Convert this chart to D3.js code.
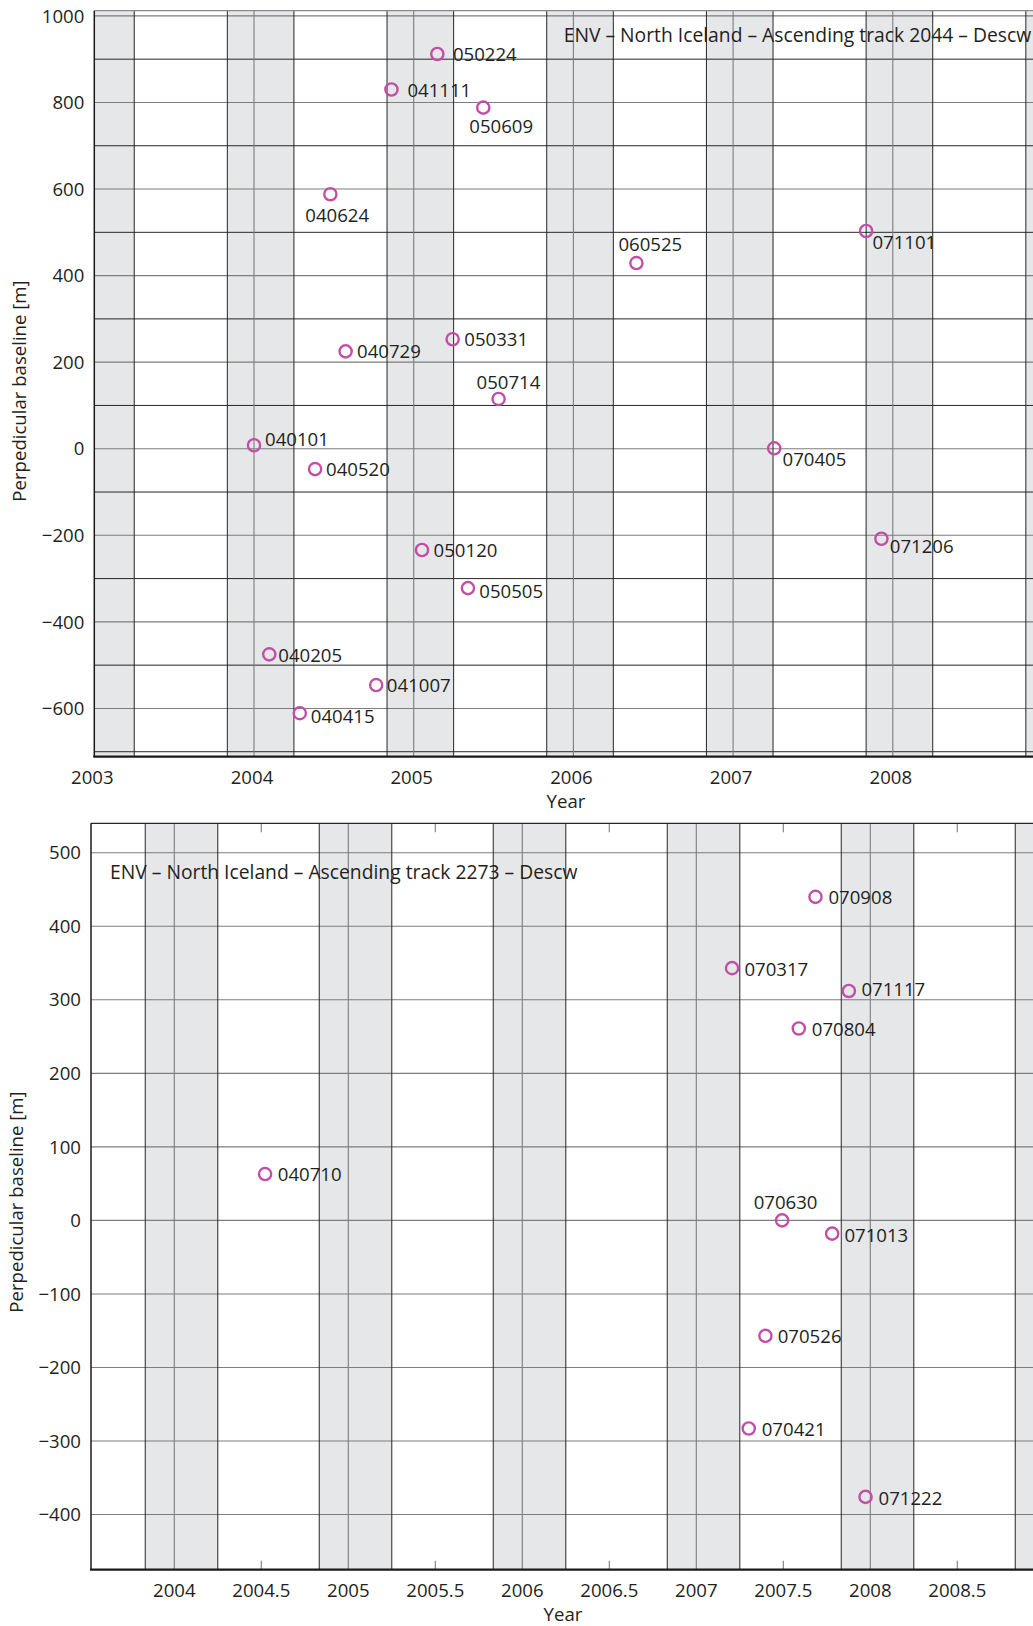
<!DOCTYPE html>
<html>
<head>
<meta charset="utf-8">
<script src="https://cdn.jsdelivr.net/npm/d3@7"></script>
<style>
  html, body { margin: 0; padding: 0; background: #fff; }
  svg { display: block; }
  text { font-family: 'Open Sans', 'Noto Sans', sans-serif; fill: #231f20; }
</style>
</head>
<body>
<svg id="chart" width="1033" height="1626"></svg>
<script>
// ---------------- DATA ----------------
// Track 2044 (top panel)
const dates1 = ["040101","040205","040415","040520","040624","040729","041007","041111",
                "050120","050224","050331","050505","050609","050714","060525","070405",
                "071101","071206"];
const baseline1 = [8, -475, -611, -47, 588, 225, -546, 830,
                   -234, 912, 253, -322, 788, 115, 429, 1,
                   503, -208];
const yTicks1 = [-600, -400, -200, 0, 200, 400, 600, 800, 1000];
const yGrid1 = [-700, -500, -300, -100, 100, 300, 500, 700, 900];
const xTicks1 = [2003, 2004, 2005, 2006, 2007, 2008];
const title1 = "ENV – North Iceland – Ascending track 2044 – Descw";

// Track 2273 (bottom panel)
const dates2 = ["040710","070317","070421","070526","070630","070804","070908","071013",
                "071117","071222"];
const baseline2 = [63, 343, -283, -157, 0, 261, 440, -18, 312, -376];
const yTicks2 = [-400, -300, -200, -100, 0, 100, 200, 300, 400, 500];
const xTicks2 = [2004, 2004.5, 2005, 2005.5, 2006, 2006.5, 2007, 2007.5, 2008, 2008.5];
const title2 = "ENV – North Iceland – Ascending track 2273 – Descw";

// Winter (Nov–Mar) shading, decimal years
const winterStart = [2002.833, 2003.833, 2004.833, 2005.833, 2006.833, 2007.833, 2008.833];
const winterEnd   = [2003.25, 2004.25, 2005.25, 2006.25, 2007.25, 2008.25, 2009.25];
const yearLines = [2003, 2004, 2005, 2006, 2007, 2008, 2009];

const yLabel = "Perpedicular baseline [m]";
const xLabel = "Year";

// ---------------- LAYOUT (label offsets in px: left edge dx, vertical centre dy) ----------------
const labelOffsets1 = {
  "040101":[11,-6], "040205":[9,0.6], "040415":[11,3.6], "040520":[11,0], "040624":[-25,20.6],
  "040729":[11.4,0.4], "041007":[10.7,0.4], "041111":[16,0.5], "050120":[11.6,0.7],
  "050224":[15.6,0.5], "050331":[11.7,0], "050505":[11.3,2.7], "050609":[-14,18.5],
  "050714":[-22,-17], "060525":[-18,-19], "070405":[8.3,11], "071101":[6.3,11.6], "071206":[8.4,8]
};
const labelOffsets2 = {
  "040710":[12.7,0], "070317":[12.4,1], "070421":[13,1], "070526":[12.3,0.7], "070630":[-28.4,-17.7],
  "070804":[13,0.7], "070908":[13,0.3], "071013":[12.3,1.4], "071117":[12.6,-1.7], "071222":[13,1]
};

const FONT = 18.6;
const TITLE_FONT = 19.3;
const MARK = "#c24ea6";
const GREY_LINE = "#7d7d7d";
const DARK_LINE = "#262626";
const BAND = "#e6e7e9";

const parse = d3.timeParse("%y%m%d");
function decYear(s) {
  const d = parse(s);
  const y0 = d3.timeYear.floor(d), y1 = d3.timeYear.offset(y0, 1);
  return d.getFullYear() + d3.timeDay.count(y0, d) / d3.timeDay.count(y0, y1);
}

const svg = d3.select("#chart");

function panel(cfg) {
  const g = svg.append("g");
  const x = d3.scaleLinear().domain(cfg.xDomain).range([cfg.left, cfg.right]);
  const y = d3.scaleLinear().domain(cfg.yDomain).range([cfg.bottom, cfg.top]);
  const clipId = "clip" + cfg.id;
  svg.append("clipPath").attr("id", clipId).append("rect")
    .attr("x", cfg.left).attr("y", cfg.top)
    .attr("width", cfg.right - cfg.left).attr("height", cfg.bottom - cfg.top);
  const inner = g.append("g").attr("clip-path", `url(#${clipId})`);

  // winter bands
  inner.selectAll("rect.band").data(d3.zip(winterStart, winterEnd)).join("rect")
    .attr("class", "band")
    .attr("x", d => x(d[0])).attr("width", d => x(d[1]) - x(d[0]))
    .attr("y", cfg.top).attr("height", cfg.bottom - cfg.top)
    .attr("fill", BAND);

  // horizontal grid
  inner.selectAll("line.hg").data(cfg.yGrid).join("line")
    .attr("x1", cfg.left).attr("x2", cfg.right)
    .attr("y1", d => y(d)).attr("y2", d => y(d))
    .attr("stroke", DARK_LINE).attr("stroke-width", 1);
  inner.selectAll("line.ht").data(cfg.yTicks).join("line")
    .attr("x1", cfg.left).attr("x2", cfg.right)
    .attr("y1", d => y(d)).attr("y2", d => y(d))
    .attr("stroke", GREY_LINE).attr("stroke-width", 1.1);

  // vertical grid (band edges + year lines)
  const edges = winterStart.concat(winterEnd);
  inner.selectAll("line.ve").data(edges).join("line")
    .attr("x1", d => x(d)).attr("x2", d => x(d))
    .attr("y1", cfg.top).attr("y2", cfg.bottom)
    .attr("stroke", DARK_LINE).attr("stroke-width", 1);
  inner.selectAll("line.vy").data(yearLines).join("line")
    .attr("x1", d => x(d)).attr("x2", d => x(d))
    .attr("y1", cfg.top).attr("y2", cfg.bottom)
    .attr("stroke", GREY_LINE).attr("stroke-width", 1.1);

  // minor half-year tick marks (bottom panel)
  if (cfg.halfTicks) {
    const half = cfg.xTicks.filter(t => t % 1 !== 0);
    inner.selectAll("line.tb").data(half).join("line")
      .attr("x1", d => x(d)).attr("x2", d => x(d))
      .attr("y1", cfg.bottom).attr("y2", cfg.bottom - 9)
      .attr("stroke", GREY_LINE).attr("stroke-width", 1.1);
    inner.selectAll("line.tt").data(half).join("line")
      .attr("x1", d => x(d)).attr("x2", d => x(d))
      .attr("y1", cfg.top).attr("y2", cfg.top + 9)
      .attr("stroke", GREY_LINE).attr("stroke-width", 1.1);
  }

  // frame
  g.append("line").attr("x1", cfg.left).attr("x2", 1033).attr("y1", cfg.top).attr("y2", cfg.top)
    .attr("stroke", cfg.topColor).attr("stroke-width", 1.3);
  g.append("line").attr("x1", cfg.left).attr("x2", cfg.left).attr("y1", cfg.top).attr("y2", cfg.bottom)
    .attr("stroke", "#1a1a1a").attr("stroke-width", 1.5);
  g.append("line").attr("x1", cfg.left - 1).attr("x2", 1033).attr("y1", cfg.bottom).attr("y2", cfg.bottom)
    .attr("stroke", "#1a1a1a").attr("stroke-width", 2.2);

  // y tick labels
  const fmt = v => (v < 0 ? "\u2212" + Math.abs(v) : String(v));
  g.selectAll("text.yt").data(cfg.yTicks).join("text")
    .attr("x", cfg.left - 10).attr("y", d => y(d)).attr("dy", "0.36em")
    .attr("text-anchor", "end").attr("font-size", FONT).text(fmt);

  // x tick labels
  g.selectAll("text.xt").data(cfg.xTicks).join("text")
    .attr("x", d => x(d) + cfg.xLabelShift).attr("y", cfg.bottom + 27)
    .attr("text-anchor", "middle").attr("font-size", FONT).text(d => String(d));

  // axis titles
  g.append("text").attr("x", cfg.xTitleX).attr("y", cfg.bottom + 51)
    .attr("text-anchor", "middle").attr("font-size", FONT).text(xLabel);
  g.append("text")
    .attr("transform", `translate(${cfg.yTitleX},${cfg.yTitleY}) rotate(-90)`)
    .attr("text-anchor", "middle").attr("dy", "0.36em").attr("font-size", FONT).text(yLabel);

  // panel title
  g.append("text").attr("x", cfg.titleX).attr("y", cfg.titleY)
    .attr("font-size", TITLE_FONT).text(cfg.title);

  // points
  const pts = cfg.dates.map((d, i) => ({ id: d, t: decYear(d), v: cfg.values[i] }));
  g.selectAll("circle.pt").data(pts).join("circle")
    .attr("cx", d => x(d.t)).attr("cy", d => y(d.v)).attr("r", 6.1)
    .attr("fill", "none").attr("stroke", MARK).attr("stroke-width", 2.4);
  g.selectAll("text.lbl").data(pts).join("text")
    .attr("x", d => x(d.t) + cfg.offsets[d.id][0])
    .attr("y", d => y(d.v) + cfg.offsets[d.id][1])
    .attr("dy", "0.36em").attr("font-size", FONT).text(d => d.id);
}

panel({
  id: 1, left: 94.3, right: 1052.5, top: 10.7, bottom: 756.7,
  xDomain: [2003, 2009], yDomain: [-711.5, 1012],
  yTicks: yTicks1, yGrid: yGrid1, xTicks: xTicks1, halfTicks: false,
  dates: dates1, values: baseline1, offsets: labelOffsets1,
  title: title1, titleX: 563.7, titleY: 42, topColor: "#8a8a8a",
  xLabelShift: -2, xTitleX: 566, yTitleX: 19, yTitleY: 391
});

panel({
  id: 2, left: 91, right: 1044.3, top: 823.3, bottom: 1569.7,
  xDomain: [2003.5213, 2009], yDomain: [-475, 540],
  yTicks: yTicks2, yGrid: [], xTicks: xTicks2, halfTicks: true,
  dates: dates2, values: baseline2, offsets: labelOffsets2,
  title: title2, titleX: 110, titleY: 879, topColor: "#262626",
  xLabelShift: 0, xTitleX: 563, yTitleX: 16, yTitleY: 1202
});
</script>
</body>
</html>
